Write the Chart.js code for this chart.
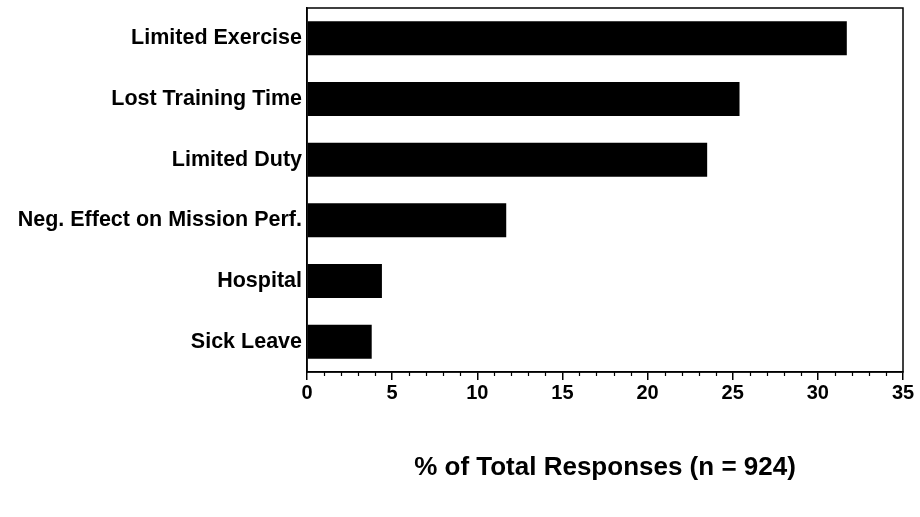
<!DOCTYPE html>
<html>
<head>
<meta charset="utf-8">
<script src="https://cdn.jsdelivr.net/npm/chart.js@4"></script>
<style>
html,body{margin:0;padding:0;background:#fff;}
#wrap{width:920px;height:517px;position:relative;}
</style>
</head>
<body>
<div id="wrap"><canvas id="c" width="920" height="517"></canvas></div>
<script>
const categories = ["Limited Exercise","Lost Training Time","Limited Duty","Neg. Effect on Mission Perf.","Hospital","Sick Leave"];
const percentValues = [31.7, 25.4, 23.5, 11.7, 4.4, 3.8];
const xTickMin = 0;
const xTickMax = 35;
const xMajorStep = 5;
const xMinorStep = 1;
const xAxisTitle = "% of Total Responses (n = 924)";

const FONT = "'Liberation Sans', Arial, Helvetica, sans-serif";

const frameAndMinorTicks = {
  id: 'frameAndMinorTicks',
  afterDraw(chart) {
    const {ctx, chartArea: a} = chart;
    const xs = chart.scales.x;
    ctx.save();
    ctx.strokeStyle = '#000';
    ctx.lineWidth = 1.5;
    ctx.strokeRect(a.left, a.top, a.right - a.left, a.bottom - a.top);
    ctx.lineWidth = 1.2;
    ctx.beginPath();
    for (let v = xTickMin; v <= xTickMax; v += xMinorStep) {
      if (v % xMajorStep === 0) continue;
      const px = Math.round(xs.getPixelForValue(v)) + 0.5;
      ctx.moveTo(px, a.bottom);
      ctx.lineTo(px, a.bottom + 4);
    }
    ctx.stroke();
    ctx.restore();
  }
};

new Chart(document.getElementById('c'), {
  type: 'bar',
  data: {
    labels: categories,
    datasets: [{
      data: percentValues,
      backgroundColor: '#000',
      borderWidth: 0,
      barPercentage: 0.56,
      categoryPercentage: 1.0
    }]
  },
  options: {
    indexAxis: 'y',
    responsive: false,
    animation: false,
    layout: {padding: {left: 0, right: 17, top: 0, bottom: 0}},
    plugins: {legend: {display: false}, tooltip: {enabled: false}},
    scales: {
      x: {
        min: xTickMin,
        max: xTickMax,
        ticks: {
          stepSize: xMajorStep,
          color: '#000',
          font: {family: FONT, size: 20, weight: 'bold'},
          padding: 1,
          maxRotation: 0
        },
        grid: {drawOnChartArea: false, tickLength: 8, tickColor: '#000', lineWidth: 1.5},
        border: {display: true, color: '#000', width: 1.5},
        title: {
          display: true,
          text: xAxisTitle,
          color: '#000',
          font: {family: FONT, size: 26, weight: 'bold'},
          padding: {top: 0, bottom: 34}
        },
        afterFit(scale) { scale.height = 145; }
      },
      y: {
        ticks: {
          color: '#000',
          font: {family: FONT, size: 21.5, weight: 'bold'},
          padding: 5
        },
        grid: {display: false, drawTicks: false},
        border: {display: true, color: '#000', width: 1.5},
        afterFit(scale) {
          scale.width = 307;
          scale.paddingTop = 8;
          scale.paddingBottom = 0;
        }
      }
    }
  },
  plugins: [frameAndMinorTicks]
});
</script>
</body>
</html>
